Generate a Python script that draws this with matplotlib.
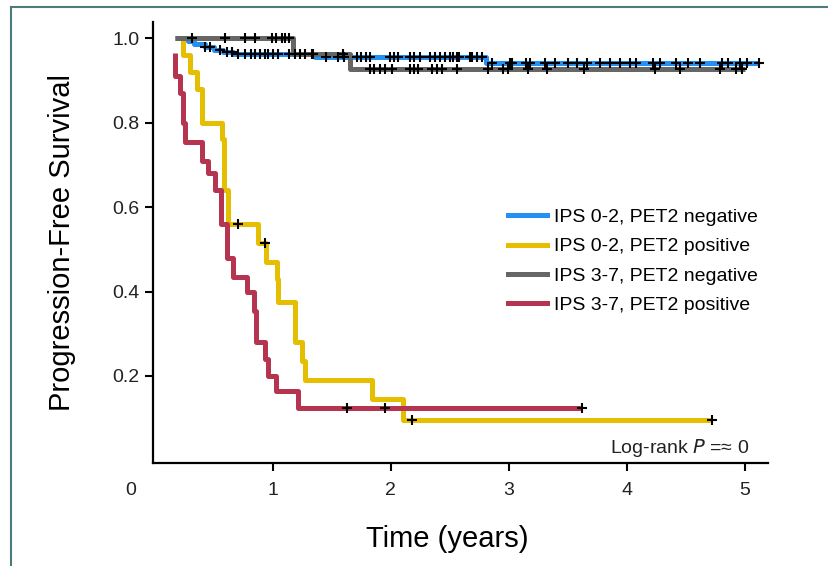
import numpy as np
import matplotlib
matplotlib.use("Agg")
import matplotlib.pyplot as plt
from matplotlib.lines import Line2D

# step curves: (time in years, survival after the event)
blue_t = [0.17, 0.28, 0.33, 0.42, 0.50, 0.58, 0.66, 1.36, 2.81, 5.12]
blue_s = [1.00, 0.993, 0.987, 0.980, 0.973, 0.967, 0.962, 0.955, 0.940, 0.940]
blue_cens = [0.42, 0.47, 0.55, 0.61, 0.65, 0.70, 0.76, 0.81, 0.85, 0.89, 0.93, 0.96,
             1.00, 1.04, 1.14, 1.19, 1.23, 1.27, 1.33, 1.45, 1.55, 1.60, 1.71, 1.75,
             1.79, 1.82, 1.99, 2.03, 2.06, 2.16, 2.20, 2.25, 2.33, 2.37, 2.42, 2.46,
             2.50, 2.53, 2.56, 2.58, 2.67, 2.69, 2.73, 2.77, 2.86, 3.01, 3.03, 3.15,
             3.18, 3.31, 3.39, 3.50, 3.58, 3.66, 3.77, 3.86, 3.94, 4.03, 4.08, 4.22,
             4.28, 4.42, 4.52, 4.62, 4.81, 4.86, 4.96, 5.02, 5.12]

gray_t = [0.17, 1.17, 1.65, 5.00]
gray_s = [1.00, 0.963, 0.926, 0.926]
gray_cens = [0.31, 0.59, 0.76, 0.85, 0.99, 1.03, 1.08, 1.10, 1.14, 1.34, 1.59,
             1.82, 1.86, 1.91, 1.95, 2.01, 2.16, 2.20, 2.23, 2.35, 2.39, 2.43, 2.56,
             2.82, 2.95, 2.99, 3.16, 3.32, 3.64, 4.24, 4.45, 4.79, 4.93, 4.98]

yellow_t = [0.17, 0.24, 0.30, 0.36, 0.40, 0.57, 0.585, 0.62, 0.87, 0.94, 1.035,
            1.045, 1.19, 1.25, 1.27, 1.84, 2.10, 4.72]
yellow_s = [1.00, 0.96, 0.92, 0.88, 0.80, 0.76, 0.64, 0.56, 0.515, 0.47, 0.43,
            0.375, 0.28, 0.235, 0.19, 0.145, 0.096, 0.096]
yellow_cens = [0.70, 0.93, 2.18, 4.72]

red_t = [0.17, 0.17, 0.21, 0.235, 0.25, 0.40, 0.45, 0.51, 0.56, 0.61, 0.66, 0.78,
         0.835, 0.86, 0.93, 0.96, 1.03, 1.21, 3.62]
red_s = [0.965, 0.91, 0.87, 0.80, 0.755, 0.71, 0.68, 0.64, 0.56, 0.48, 0.435, 0.40,
         0.355, 0.28, 0.24, 0.20, 0.165, 0.125, 0.125]
red_cens = [1.63, 1.95, 3.62]

labels = ["IPS 0-2, PET2 negative", "IPS 0-2, PET2 positive",
          "IPS 3-7, PET2 negative", "IPS 3-7, PET2 positive"]
colors = ["#2290f5", "#e6be00", "#666666", "#b5344f"]

x_ticks = [1, 2, 3, 4, 5]
y_ticks = [0.2, 0.4, 0.6, 0.8, 1.0]

plt.rcParams["font.family"] = ["Liberation Sans", "DejaVu Sans"]


def surv_at(t, times, surv):
    i = np.searchsorted(times, t, side="right") - 1
    return np.array(surv)[np.clip(i, 0, len(surv) - 1)]


fig = plt.figure(figsize=(8.29, 5.66), dpi=100)
ax = fig.add_axes([0.1846, 0.182, 0.7414, 0.779])

series = [(blue_t, blue_s, blue_cens, 0), (gray_t, gray_s, gray_cens, 2),
          (yellow_t, yellow_s, yellow_cens, 1), (red_t, red_s, red_cens, 3)]
for t, s, cens, k in series:
    ax.step(t, s, where="post", color=colors[k], lw=3.6, solid_capstyle="butt", zorder=2 + k * 0.1)
for t, s, cens, k in series:
    ax.plot(cens, surv_at(np.array(cens), np.array(t), s), "+", color="black",
            ms=7, mew=1.5, zorder=4)

handles = [Line2D([], [], color=c, lw=3.6) for c in colors]
ax.legend(handles, labels, loc="upper left", bbox_to_anchor=(0.565, 0.595), frameon=False,
          fontsize=14, handlelength=2.0, handletextpad=0.35, labelspacing=0.6,
          borderaxespad=0)

ax.text(5.04, 0.03, r"Log-rank $\it{P}$ =≈ 0", ha="right", va="center", fontsize=14,
        color="#222222")

ax.set_xlim(-0.017, 5.195)
ax.set_ylim(-0.006, 1.038)
ax.set_xticks(x_ticks)
ax.set_yticks(y_ticks)
ax.set_xticklabels([str(v) for v in x_ticks])
ax.set_yticklabels([f"{v:.1f}" for v in y_ticks])
ax.tick_params(axis="both", labelsize=14, width=1.5, length=6, color="black",
               labelcolor="#222222")
ax.tick_params(axis="x", pad=8)
ax.tick_params(axis="y", pad=4)
for side in ["top", "right"]:
    ax.spines[side].set_visible(False)
for side in ["left", "bottom"]:
    ax.spines[side].set_linewidth(1.6)
ax.text(-0.21, -0.07, "0", ha="center", va="center", fontsize=14, color="#222222",
        clip_on=False)

ax.set_xlabel("Time (years)", fontsize=21)
ax.xaxis.set_label_coords(0.478, -0.14)
ax.set_ylabel("Progression-Free Survival", fontsize=21, labelpad=26)

# thin frame around the figure panel
fig.add_artist(Line2D([0.013, 0.013], [0.0, 0.988], color="#4d7a7a", lw=1.5))
fig.add_artist(Line2D([0.013, 1.0], [0.988, 0.988], color="#4d7a7a", lw=1.5))

fig.savefig("out.png", dpi=100)
